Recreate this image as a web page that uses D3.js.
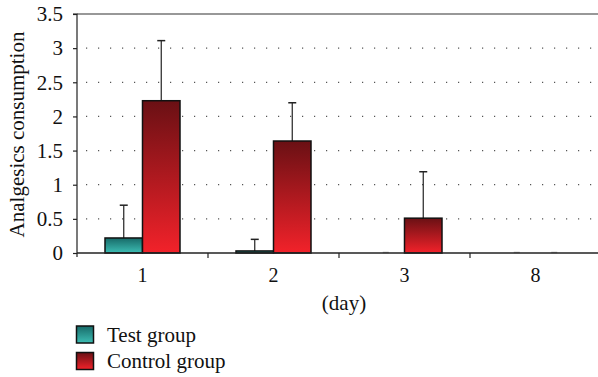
<!DOCTYPE html>
<html><head><meta charset="utf-8">
<script src="https://cdn.jsdelivr.net/npm/d3@7"></script>
<style>body{margin:0;background:#fff}svg{display:block}</style>
</head><body>
<script>
const days = ["1", "2", "3", "8"];
const seriesNames = ["Test group", "Control group"];
const testMeans = [0.22, 0.03, 0, 0];
const testErr = [0.48, 0.17, 0, 0];
const controlMeans = [2.23, 1.64, 0.51, 0];
const controlErr = [0.88, 0.56, 0.68, 0];
const yTicks = [0, 0.5, 1, 1.5, 2, 2.5, 3, 3.5];

const W = 598, H = 377;
const m = {left: 77, right: 0, top: 14, bottom: 124};
const svg = d3.select("body").append("svg").attr("width", W).attr("height", H);
const font = "'Liberation Serif', 'Times New Roman', serif";
const fs = 20;

const defs = svg.append("defs");
const grads = [
  {id: "gTest", top: "#176a68", bot: "#3dbdb4"},
  {id: "gCtrl", top: "#6a1014", bot: "#f2222a"}
];
grads.forEach(g => {
  const lg = defs.append("linearGradient").attr("id", g.id).attr("x1", 0).attr("y1", 0).attr("x2", 0).attr("y2", 1);
  lg.append("stop").attr("offset", "0%").attr("stop-color", g.top);
  lg.append("stop").attr("offset", "100%").attr("stop-color", g.bot);
});

const x = d3.scaleBand().domain(days).range([m.left, 601]).paddingInner(0).paddingOuter(0);
const y = d3.scaleLinear().domain([0, 3.5]).range([H - m.bottom, m.top]);
const half = 37.5;
const xs = d3.scaleBand().domain(seriesNames).range([x.bandwidth() / 2 - half, x.bandwidth() / 2 + half]).padding(0);

// gridlines
svg.append("g").selectAll("line").data(yTicks.filter(t => t > 0 && t < 3.5)).join("line")
  .attr("x1", m.left + 9).attr("x2", W).attr("y1", d => y(d)).attr("y2", d => y(d))
  .attr("stroke", "#555").attr("stroke-width", 1.2).attr("stroke-dasharray", "1.2,10.8");

// top border line
svg.append("line").attr("x1", m.left).attr("x2", W).attr("y1", y(3.5)).attr("y2", y(3.5))
  .attr("stroke", "#333").attr("stroke-width", 1.2);

const data = days.map((d, i) => [
  {day: d, s: seriesNames[0], v: testMeans[i], e: testErr[i], fill: "url(#gTest)"},
  {day: d, s: seriesNames[1], v: controlMeans[i], e: controlErr[i], fill: "url(#gCtrl)"}
]).flat();

const bars = svg.append("g");
data.forEach(d => {
  const bx = x(d.day) + xs(d.s), bw = xs.bandwidth();
  if (d.v > 0) {
    if (d.e > 0) {
      const cx = bx + bw / 2;
      bars.append("line").attr("x1", cx).attr("x2", cx).attr("y1", y(d.v)).attr("y2", y(d.v + d.e))
        .attr("stroke", "#222").attr("stroke-width", 1.2);
      bars.append("line").attr("x1", cx - 4).attr("x2", cx + 4).attr("y1", y(d.v + d.e)).attr("y2", y(d.v + d.e))
        .attr("stroke", "#222").attr("stroke-width", 1.5);
    }
    bars.append("rect").attr("x", bx).attr("y", y(d.v)).attr("width", bw).attr("height", y(0) - y(d.v))
      .attr("fill", d.fill).attr("stroke", "#111").attr("stroke-width", 1.5);
  } else {
    bars.append("line").attr("x1", bx + bw / 2 - 3).attr("x2", bx + bw / 2 + 3)
      .attr("y1", y(0) - 0.5).attr("y2", y(0) - 0.5).attr("stroke", "#aaa").attr("stroke-width", 1.5);
  }
});

// y axis
const yAxis = svg.append("g").attr("transform", `translate(${m.left},0)`)
  .call(d3.axisLeft(y).tickValues(yTicks).tickSize(4).tickPadding(10).tickFormat(d3.format("")));
yAxis.select(".domain").attr("d", `M-4,${y(3.5)}H0V${y(0) + 4}`).attr("stroke", "#222").attr("stroke-width", 1.2);
yAxis.selectAll(".tick line").attr("stroke", "#222").attr("stroke-width", 1.2);
yAxis.selectAll("text").style("font-family", font).style("font-size", (fs + 1) + "px").attr("fill", "#111");

// x axis
const xAxis = svg.append("g").attr("transform", `translate(0,${y(0)})`)
  .call(d3.axisBottom(x).tickSize(0).tickPadding(14));
xAxis.select(".domain").attr("d", `M${m.left},0H${W}`).attr("stroke", "#222").attr("stroke-width", 1.5);
xAxis.selectAll("text").style("font-family", font).style("font-size", fs + "px").attr("fill", "#111")
  .attr("dy", null).attr("y", 29);
xAxis.append("g").selectAll("line").data(days.slice(1)).join("line")
  .attr("x1", d => x(d)).attr("x2", d => x(d)).attr("y1", 0).attr("y2", 5)
  .attr("stroke", "#222").attr("stroke-width", 1.2);

svg.append("text").attr("x", 344).attr("y", 310).attr("text-anchor", "middle")
  .style("font-family", font).style("font-size", (fs + 1) + "px").attr("fill", "#111").text("(day)");

svg.append("text").attr("transform", `translate(24,${(y(0) + y(3.5)) / 2 + 1}) rotate(-90)`)
  .attr("text-anchor", "middle").style("font-family", font).style("font-size", (fs + 1) + "px").attr("fill", "#111")
  .text("Analgesics consumption");

// legend
const leg = svg.append("g");
seriesNames.forEach((s, i) => {
  const ly = 326 + i * 26.5;
  leg.append("rect").attr("x", 76.5).attr("y", ly).attr("width", 17).attr("height", 17)
    .attr("fill", i === 0 ? "url(#gTest)" : "url(#gCtrl)").attr("stroke", "#111").attr("stroke-width", 1.5);
  leg.append("text").attr("x", 107).attr("y", ly + 15.5).style("font-family", font).style("font-size", (fs + 1) + "px")
    .attr("fill", "#111").text(s);
});
</script>
</body></html>
